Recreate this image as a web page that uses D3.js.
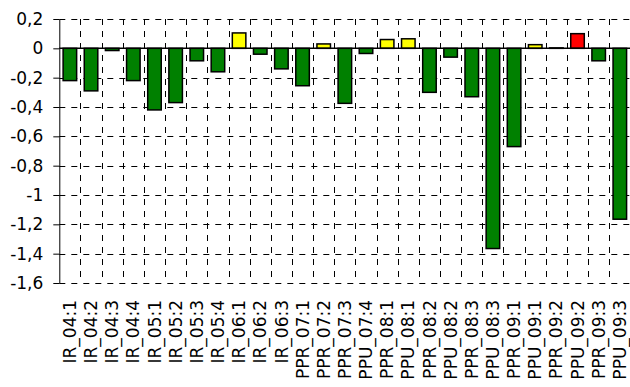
<!DOCTYPE html>
<html>
<head>
<meta charset="utf-8">
<script src="https://cdn.jsdelivr.net/npm/d3@7"></script>
<style>
  body { margin: 0; background: #fff; }
  svg { display: block; font-family: "DejaVu Sans", sans-serif; }
</style>
</head>
<body>
<svg id="chart"></svg>
<script>
// categories along the x axis
const categories = ["IR_04:1", "IR_04:2", "IR_04:3", "IR_04:4", "IR_05:1", "IR_05:2", "IR_05:3", "IR_05:4",
  "IR_06:1", "IR_06:2", "IR_06:3", "PPR_07:1", "PPR_07:2", "PPR_07:3", "PPU_07:4", "PPR_08:1", "PPU_08:1",
  "PPR_08:2", "PPU_08:2", "PPR_08:3", "PPU_08:3", "PPR_09:1", "PPU_09:1", "PPR_09:2", "PPU_09:2",
  "PPR_09:3", "PPU_09:3"];

// bar values
const values = [-0.22, -0.29, -0.015, -0.22, -0.42, -0.37, -0.085, -0.16,
  0.105, -0.04, -0.14, -0.255, 0.03, -0.375, -0.035, 0.06, 0.065,
  -0.30, -0.06, -0.33, -1.365, -0.67, 0.025, 0.003, 0.10,
  -0.085, -1.165];

// status of each bar (drives the fill)
const status = ["neg", "neg", "neg", "neg", "neg", "neg", "neg", "neg",
  "pos", "neg", "neg", "neg", "pos", "neg", "neg", "pos", "pos",
  "neg", "neg", "neg", "neg", "neg", "pos", "pos", "alert",
  "neg", "neg"];

// y tick values
const yTicks = [0.2, 0, -0.2, -0.4, -0.6, -0.8, -1, -1.2, -1.4, -1.6];

const fills = {neg: "#008000", pos: "#ffff00", alert: "#ff0000"};

const W = 630, H = 387;
const margin = {top: 19, bottom: 104, left: 59.3, right: -0.4};

const svg = d3.select("#chart").attr("width", W).attr("height", H);

const x = d3.scaleBand()
    .domain(categories)
    .range([margin.left, W - margin.right])
    .paddingInner(0.36)
    .paddingOuter(0.18);

const y = d3.scaleLinear()
    .domain([-1.6, 0.2])
    .range([H - margin.bottom, margin.top]);

const locale = d3.formatLocale({decimal: ",", thousands: " ", grouping: [3], currency: ["", ""], minus: "-"});
const fmt = locale.format("~g");

// horizontal grid lines (dashed), zero line is drawn solid later
svg.append("g")
  .selectAll("line")
  .data(yTicks.filter(d => d !== 0))
  .join("line")
    .attr("x1", margin.left)
    .attr("x2", W)
    .attr("y1", d => Math.round(y(d)) + 0.5)
    .attr("y2", d => Math.round(y(d)) + 0.5)
    .attr("stroke", "#000")
    .attr("stroke-dasharray", "6,6");

// vertical grid lines at the category boundaries
const step = x.step();
svg.append("g")
  .selectAll("line")
  .data(categories.slice(1))
  .join("line")
    .attr("x1", d => Math.round(x(d) - step * x.paddingInner() / 2) + 0.5)
    .attr("x2", d => Math.round(x(d) - step * x.paddingInner() / 2) + 0.5)
    .attr("y1", y(0.2))
    .attr("y2", y(-1.6))
    .attr("stroke", "#000")
    .attr("stroke-dasharray", "6,6");

// bars
svg.append("g")
  .selectAll("rect")
  .data(categories)
  .join("rect")
    .attr("x", d => x(d))
    .attr("width", x.bandwidth())
    .attr("y", (d, i) => y(Math.max(0, values[i])))
    .attr("height", (d, i) => Math.abs(y(values[i]) - y(0)))
    .attr("fill", (d, i) => fills[status[i]])
    .attr("stroke", "#000")
    .attr("stroke-width", 1.5);

// zero line
svg.append("line")
    .attr("x1", margin.left)
    .attr("x2", W)
    .attr("y1", y(0))
    .attr("y2", y(0))
    .attr("stroke", "#000")
    .attr("stroke-width", 1.5);

// y axis
const yAxisG = svg.append("g")
    .attr("transform", `translate(${margin.left},0)`)
    .call(d3.axisLeft(y).tickValues(yTicks).tickFormat(fmt).tickSize(6).tickSizeOuter(0).tickPadding(10));
yAxisG.selectAll("text")
    .attr("font-size", "17px")
    .attr("font-family", "DejaVu Sans, sans-serif")
    .attr("fill", "#000");
yAxisG.select(".domain").attr("stroke", "#000");

// x axis labels (rotated)
const xAxisG = svg.append("g")
    .attr("transform", `translate(0,${y(-1.6)})`)
    .call(d3.axisBottom(x).tickSize(0));
xAxisG.select(".domain").remove();
xAxisG.selectAll("text")
    .attr("font-size", "17px")
    .attr("font-family", "DejaVu Sans, sans-serif")
    .attr("fill", "#000")
    .attr("text-anchor", "end")
    .attr("transform", "rotate(-90)")
    .attr("x", -17)
    .attr("y", 0)
    .attr("dy", "0.36em");
</script>
</body>
</html>
